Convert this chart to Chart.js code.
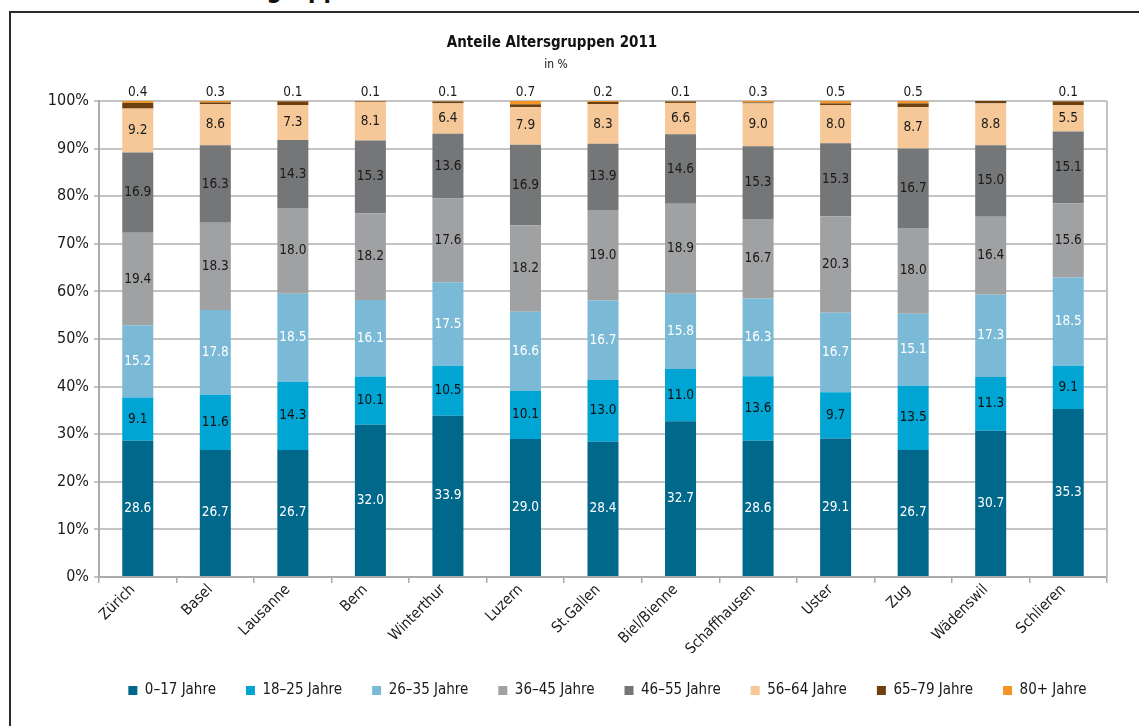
<!DOCTYPE html>
<html><head><meta charset="utf-8">
<script src="https://cdn.jsdelivr.net/npm/chart.js@4.4.0/dist/chart.umd.min.js"></script>
<style>
html,body{margin:0;padding:0;background:#fff;overflow:hidden;}
#wrap{position:relative;width:1139px;height:726px;overflow:hidden;}
#frame{position:absolute;left:9px;top:11px;width:1200px;height:800px;border:2px solid #2a2a2a;box-sizing:border-box;}
#head{position:absolute;left:194px;top:-22px;font:bold 24px 'Liberation Sans Narrow','Arial Narrow','DejaVu Sans Condensed',sans-serif;color:#111;line-height:24px;white-space:nowrap;}
canvas{position:absolute;left:0;top:0;}
</style></head>
<body><div id="wrap"><div id="head">Altersgruppen</div><div id="frame"></div><canvas id="c" width="1139" height="726"></canvas></div>
<script>
const categories = ['Zürich','Basel','Lausanne','Bern','Winterthur','Luzern','St.Gallen','Biel/Bienne','Schaffhausen','Uster','Zug','Wädenswil','Schlieren'];
const seriesNames = ['0–17 Jahre','18–25 Jahre','26–35 Jahre','36–45 Jahre','46–55 Jahre','56–64 Jahre','65–79 Jahre','80+ Jahre'];
const age0_17  = [28.6,26.7,26.7,32.0,33.9,29.0,28.4,32.7,28.6,29.1,26.7,30.7,35.3];
const age18_25 = [9.1,11.6,14.3,10.1,10.5,10.1,13.0,11.0,13.6,9.7,13.5,11.3,9.1];
const age26_35 = [15.2,17.8,18.5,16.1,17.5,16.6,16.7,15.8,16.3,16.7,15.1,17.3,18.5];
const age36_45 = [19.4,18.3,18.0,18.2,17.6,18.2,19.0,18.9,16.7,20.3,18.0,16.4,15.6];
const age46_55 = [16.9,16.3,14.3,15.3,13.6,16.9,13.9,14.6,15.3,15.3,16.7,15.0,15.1];
const age56_64 = [9.2,8.6,7.3,8.1,6.4,7.9,8.3,6.6,9.0,8.0,8.7,8.8,5.5];
const age65_79 = [1.2,0.4,0.8,0.1,0.4,0.6,0.5,0.3,0.2,0.4,0.8,0.5,0.8];
const age80    = [0.4,0.3,0.1,0.1,0.1,0.7,0.2,0.1,0.3,0.5,0.5,null,0.1];
const yTickValues = [0,10,20,30,40,50,60,70,80,90,100];

const seriesValues = [age0_17,age18_25,age26_35,age36_45,age46_55,age56_64,age65_79,age80];
const colors = ['#00688b','#00a5d3','#7bbad7','#a0a1a3','#757678','#f6c898','#6c400f','#f39425'];
const labelColors = ['#ffffff','#111111','#ffffff','#1a1a1a','#1a1a1a','#1a1a1a',null,'#1a1a1a'];
const labelMode = ['in','in','in','in','in','in',null,'top'];

const FONT = "'Liberation Sans Narrow','Arial Narrow','DejaVu Sans Condensed',sans-serif";
Chart.defaults.font.family = FONT;
Chart.defaults.color = '#1a1a1a';

const LEGEND_SHIFT = 54;
const PLOT_LEFT = 99, PLOT_BOTTOM = 577, PAD_BOTTOM = 18;

const deco = {
  id: 'deco',
  afterLayout(chart) {
    const lg = chart.legend;
    if (lg) { lg.left += LEGEND_SHIFT; lg.right += LEGEND_SHIFT; }
  },
  afterDatasetsDraw(chart) {
    const ctx = chart.ctx;
    ctx.save();
    ctx.font = '13.5px ' + FONT;
    ctx.textAlign = 'center';
    ctx.textBaseline = 'middle';
    chart.data.datasets.forEach((ds, di) => {
      const meta = chart.getDatasetMeta(di);
      meta.data.forEach((el, i) => {
        const v = ds.data[i];
        if (v == null) return;
        if (labelMode[di] === 'in') {
          ctx.fillStyle = labelColors[di];
          ctx.fillText(v.toFixed(1), el.x, (el.y + el.base) / 2);
        } else if (labelMode[di] === 'top') {
          ctx.fillStyle = labelColors[di];
          ctx.fillText(v.toFixed(1), el.x, el.y - 9);
        }
      });
    });
    ctx.restore();
  },
  afterDraw(chart) {
    const ctx = chart.ctx, ca = chart.chartArea;
    ctx.save();
    ctx.strokeStyle = '#c2c2c2';
    ctx.lineWidth = 2;
    ctx.beginPath();
    ctx.moveTo(ca.right, ca.top);
    ctx.lineTo(ca.right, ca.bottom);
    ctx.stroke();
    ctx.fillStyle = '#111';
    ctx.textAlign = 'center';
    ctx.textBaseline = 'middle';
    ctx.font = 'bold 15px ' + FONT;
    ctx.fillText('Anteile Altersgruppen 2011', 552, 43);
    ctx.font = '12px ' + FONT;
    ctx.fillText('in %', 556, 65);
    ctx.restore();
  }
};

new Chart(document.getElementById('c'), {
  type: 'bar',
  data: {
    labels: categories,
    datasets: seriesNames.map((name, i) => ({
      label: name,
      data: seriesValues[i],
      backgroundColor: colors[i],
      borderWidth: 0,
      categoryPercentage: 1,
      barPercentage: 0.4
    }))
  },
  options: {
    responsive: false,
    animation: false,
    layout: { padding: { left: 0, right: 32, top: 101, bottom: PAD_BOTTOM } },
    plugins: {
      tooltip: { enabled: false },
      title: { display: false },
      legend: {
        position: 'bottom',
        labels: { boxWidth: 9, boxHeight: 9, padding: 30, font: { size: 15 }, color: '#1a1a1a' }
      }
    },
    scales: {
      x: {
        stacked: true,
        grid: { display: true, drawOnChartArea: false, drawTicks: true, tickLength: 6, color: '#ababab', lineWidth: 1.5 },
        border: { display: true, color: '#ababab', width: 2 },
        ticks: { font: { size: 15 }, color: '#1a1a1a', maxRotation: 45, minRotation: 45, autoSkip: false, padding: -2, labelOffset: -5 },
        afterFit(s) { s.height = s.chart.height - PAD_BOTTOM - s.chart.legend.height - PLOT_BOTTOM; }
      },
      y: {
        stacked: true,
        min: 0, max: 100,
        afterBuildTicks(s) { s.ticks = yTickValues.map(v => ({ value: v })); },
        grid: { color: '#c4c4c4', lineWidth: 2, tickLength: 5 },
        border: { display: true, color: '#ababab', width: 2 },
        ticks: { font: { size: 16 }, color: '#1a1a1a', padding: 5, callback: v => v + '%' },
        afterFit(s) { s.width = PLOT_LEFT; }
      }
    }
  },
  plugins: [deco]
});
</script>
</body></html>
